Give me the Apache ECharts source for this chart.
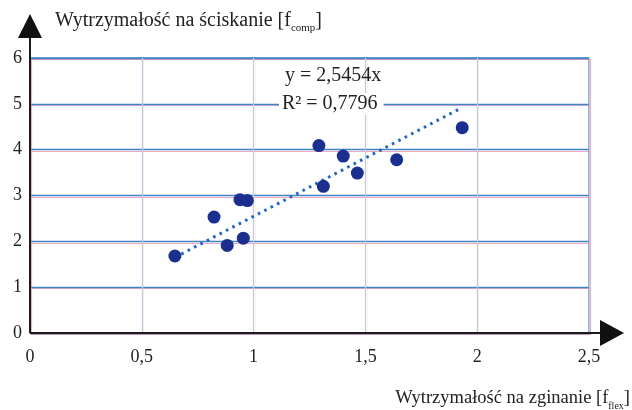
<!DOCTYPE html>
<html><head><meta charset="utf-8">
<script src="https://cdn.jsdelivr.net/npm/echarts@6/dist/echarts.min.js"></script>
<style>html,body{margin:0;padding:0;background:#fff}#c{width:632px;height:410px}</style>
</head><body><div id="c"></div>
<script>
// data
const flexural    = [0.648, 0.823, 0.882, 0.954, 0.939, 0.972, 1.292, 1.401, 1.464, 1.312, 1.640, 1.933];
const compressive = [1.68,  2.53,  1.91,  2.07,  2.91,  2.89,  4.09,  3.86,  3.49,  3.20,  3.78,  4.48];
const trendX = [0.648, 1.933];
const trendY = [1.65, 4.92];
const xTickLabels = ['0', '0,5', '1', '1,5', '2', '2,5'];
const yTickLabels = ['0', '1', '2', '3', '4', '5', '6'];
const yName = ['Wytrzymałość na ściskanie [f', 'comp', ']'];
const xName = ['Wytrzymałość na zginanie [f', 'flex', ']'];
const eqLine1 = 'y = 2,5454x';
const eqLine2 = 'R² = 0,7796';

const FONT = '"Liberation Serif", "Times New Roman", serif';
const chart = echarts.init(document.getElementById('c'), null, {renderer: 'canvas'});

const points = flexural.map((x, i) => [x, compressive[i]]);
const trend = trendX.map((x, i) => [x, trendY[i]]);

const gridMain = {left: 30, right: 43, top: 58, bottom: 77, show: true, borderColor: '#3f84c8', borderWidth: 1.3, backgroundColor: 'transparent', z: 3};
const gridPink = {left: 31.5, right: 41.5, top: 59.5, bottom: 75.5, show: true, borderColor: 'rgba(236,150,180,0.8)', borderWidth: 1.2, z: 1};

chart.setOption({
  animation: false,
  backgroundColor: '#fff',
  grid: [gridMain, gridPink],
  xAxis: [{
    gridIndex: 0, type: 'value', min: 0, max: 2.5, interval: 0.5,
    axisLine: {show: false}, axisTick: {show: false},
    axisLabel: {margin: 15, color: '#222', fontFamily: FONT, fontSize: 18,
      formatter: v => xTickLabels[Math.round(v / 0.5)]},
    splitLine: {show: true, lineStyle: {color: '#c0ccda', width: 1.3}},
    z: 3
  }, {
    gridIndex: 1, type: 'value', min: 0, max: 2.5, interval: 0.5,
    axisLine: {show: false}, axisTick: {show: false}, axisLabel: {show: false},
    splitLine: {show: true, lineStyle: {color: 'rgba(240,175,195,0.18)', width: 1.2}},
    z: 1
  }],
  yAxis: [{
    gridIndex: 0, type: 'value', min: 0, max: 6, interval: 1,
    axisLine: {show: false}, axisTick: {show: false},
    axisLabel: {margin: 8, color: '#222', fontFamily: FONT, fontSize: 18,
      formatter: v => yTickLabels[Math.round(v)]},
    splitLine: {show: true, lineStyle: {color: '#3f84c8', width: 1.3}},
    z: 3
  }, {
    gridIndex: 1, type: 'value', min: 0, max: 6, interval: 1,
    axisLine: {show: false}, axisTick: {show: false}, axisLabel: {show: false},
    splitLine: {show: true, lineStyle: {color: 'rgba(236,150,180,0.8)', width: 1.2}},
    z: 1
  }],
  series: [{
    type: 'line', xAxisIndex: 0, yAxisIndex: 0, data: trend,
    showSymbol: false, symbol: 'none', silent: true, z: 4,
    lineStyle: {color: '#1e66c4', width: 3, type: [2.6, 4.6], cap: 'butt'}
  }, {
    type: 'scatter', xAxisIndex: 0, yAxisIndex: 0, data: points,
    symbolSize: 13, z: 5,
    itemStyle: {color: '#1b2f8e', opacity: 1}
  }]
});

const o = chart.convertToPixel({gridIndex: 0}, [0, 0]);
const t = chart.convertToPixel({gridIndex: 0}, [0, 6]);
const r = chart.convertToPixel({gridIndex: 0}, [2.5, 0]);
const ox = o[0], oy = o[1], topY = t[1], rightX = r[0];

const richStyle = (size) => ({
  m: {fontFamily: FONT, fontSize: size, fill: '#222', verticalAlign: 'bottom'},
  s: {fontFamily: FONT, fontSize: Math.round(size * 0.55), fill: '#222', verticalAlign: 'bottom', padding: [0, 0, -3, 0]}
});

chart.setOption({
  graphic: [
    {type: 'line', z: 10, shape: {x1: ox, y1: oy, x2: ox, y2: topY - 21}, style: {stroke: '#1a1a1a', lineWidth: 2}},
    {type: 'polygon', z: 10, shape: {points: [[ox - 12, topY - 20], [ox + 12, topY - 20], [ox, topY - 44]]}, style: {fill: '#111'}},
    {type: 'line', z: 10, shape: {x1: ox, y1: oy, x2: rightX + 12, y2: oy}, style: {stroke: '#1a1a1a', lineWidth: 2}},
    {type: 'polygon', z: 10, shape: {points: [[rightX + 11, oy - 13], [rightX + 11, oy + 13], [rightX + 35, oy]]}, style: {fill: '#111'}},
    {type: 'text', z: 10, left: 55, top: 11, style: {
      text: '{m|' + yName[0] + '}{s|' + yName[1] + '}{m|' + yName[2] + '}',
      rich: richStyle(20)
    }},
    {type: 'text', z: 10, right: 2, top: 389, style: {
      text: '{m|' + xName[0] + '}{s|' + xName[1] + '}{m|' + xName[2] + '}',
      rich: richStyle(18.5)
    }},
    {type: 'text', z: 10, left: 285, top: 66, style: {text: eqLine1, fontFamily: FONT, fontSize: 20, fill: '#222'}},
    {type: 'text', z: 10, left: 279, top: 93, style: {text: eqLine2, fontFamily: FONT, fontSize: 20, fill: '#222',
      backgroundColor: '#fff', padding: [1, 6, 1, 3]}}
  ]
});
</script>
</body></html>
